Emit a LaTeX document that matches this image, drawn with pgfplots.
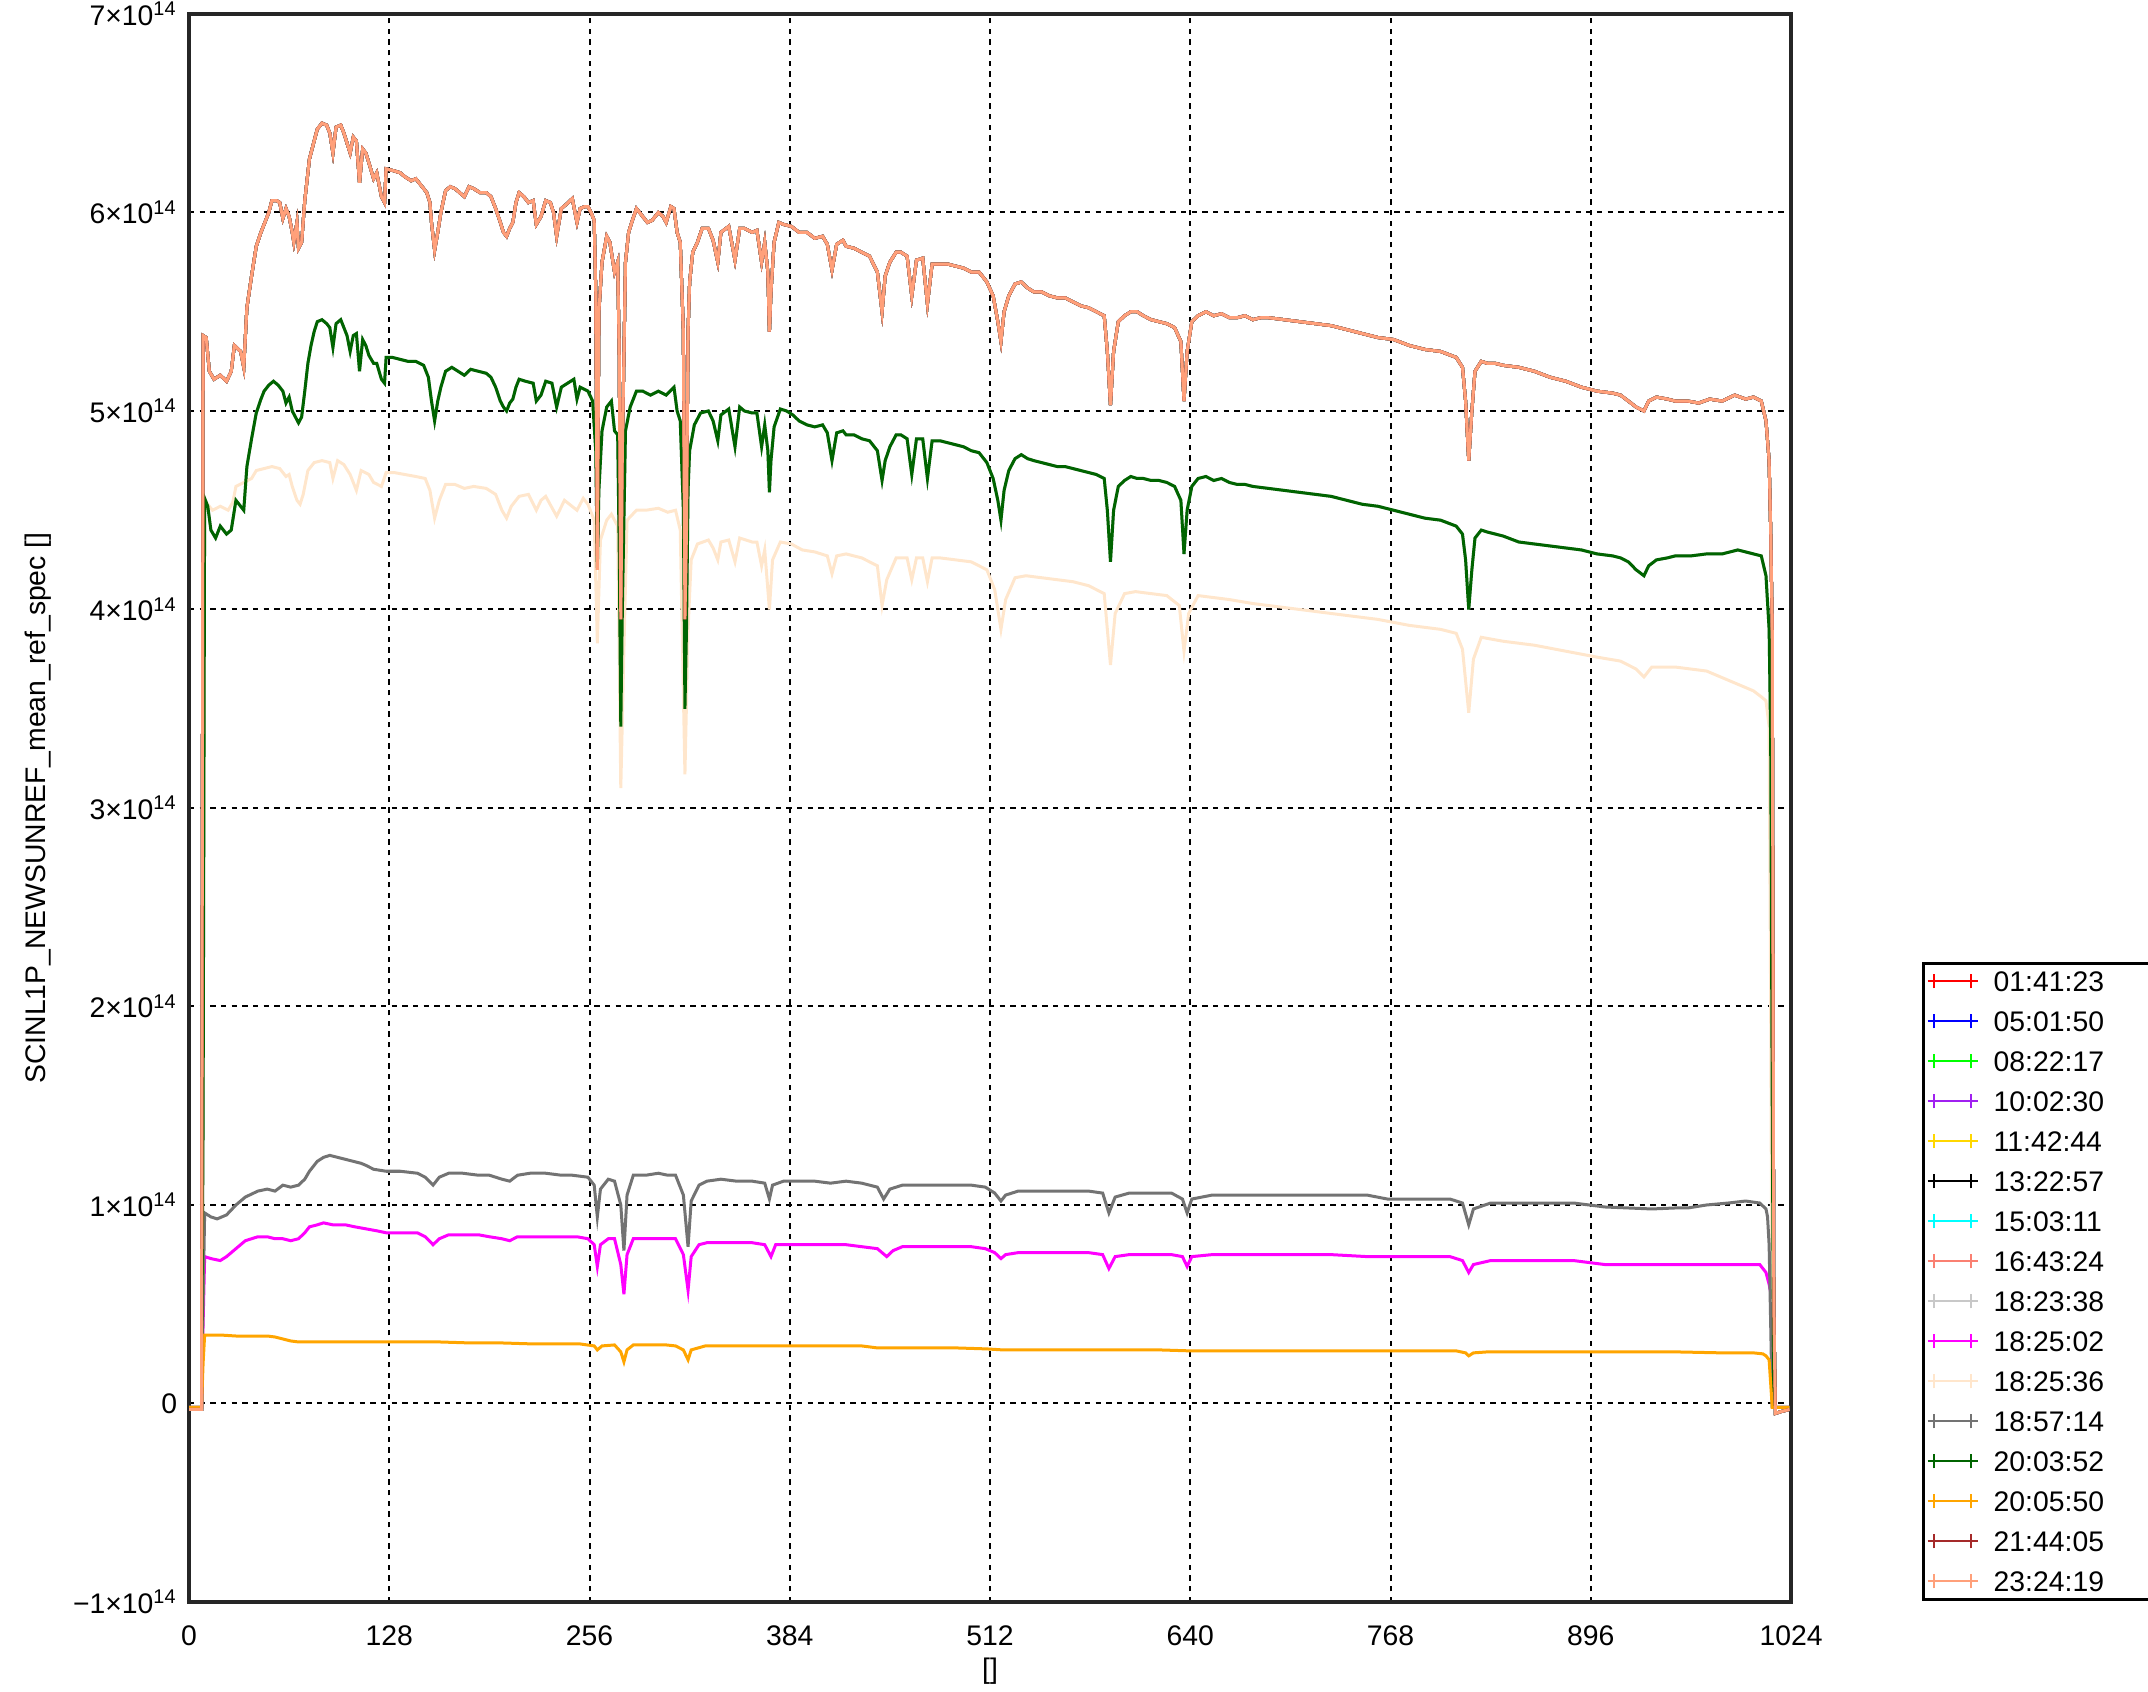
\documentclass[border=0pt]{standalone}
\usepackage{pgfplots}
\pgfplotsset{compat=1.18}
\usepackage{pgfplotstable}
\usepackage{fontspec}
\setmainfont{Liberation Sans}

\definecolor{cRed}{RGB}{255,0,0}
\definecolor{cBlue}{RGB}{0,0,255}
\definecolor{cLime}{RGB}{0,255,0}
\definecolor{cPurple}{RGB}{160,32,240}
\definecolor{cGold}{RGB}{255,215,0}
\definecolor{cCyan}{RGB}{0,255,255}
\definecolor{cSalmon}{RGB}{250,128,114}
\definecolor{cLightgray}{RGB}{200,200,200}
\definecolor{cMagenta}{RGB}{255,0,255}
\definecolor{cBisque}{RGB}{255,230,204}
\definecolor{cGray}{RGB}{115,115,115}
\definecolor{cDarkgreen}{RGB}{0,100,0}
\definecolor{cOrange}{RGB}{255,165,0}
\definecolor{cBrown}{RGB}{165,42,42}
\definecolor{cLightsalmon}{RGB}{255,160,122}

% values in units of 1e14
\pgfplotstableread{
x y
0 -0.03
8 -0.03
9 5.38
11 5.37
13 5.20
16 5.16
20 5.18
24 5.15
27 5.20
29 5.33
33 5.30
35 5.22
37 5.52
40 5.68
43 5.83
46 5.90
48 5.94
51 6.00
53 6.06
56 6.06
58 6.05
60 5.97
62 6.02
64 5.98
66 5.90
67 5.85
69 5.95
70 5.82
72 5.85
74 6.06
77 6.27
80 6.36
82 6.42
85 6.45
88 6.44
90 6.40
92 6.30
94 6.43
97 6.44
99 6.40
101 6.35
103 6.30
105 6.38
107 6.36
109 6.15
111 6.32
113 6.30
115 6.25
118 6.17
120 6.20
123 6.08
125 6.05
126 6.22
131 6.21
135 6.20
138 6.18
142 6.16
145 6.17
148 6.14
150 6.12
152 6.10
154 6.05
155 5.95
157 5.81
159 5.90
161 6.00
164 6.11
167 6.13
170 6.12
173 6.10
176 6.08
179 6.13
182 6.12
186 6.10
190 6.10
193 6.08
196 6.02
199 5.95
201 5.90
203 5.88
205 5.92
207 5.95
209 6.05
211 6.10
214 6.08
217 6.05
220 6.06
222 5.94
225 5.98
228 6.06
231 6.05
233 6.00
235 5.88
238 6.02
241 6.04
245 6.07
248 5.95
250 6.02
253 6.03
255 6.03
257 6.00
259 5.96
260 5.60
261 4.20
262 5.50
264 5.75
267 5.88
269 5.85
270 5.80
272 5.70
274 5.75
275 5.30
276 3.95
277 4.80
279 5.75
281 5.90
283 5.95
286 6.02
290 5.98
293 5.95
296 5.96
300 6.00
303 5.98
305 5.95
308 6.03
310 6.02
312 5.90
314 5.85
316 5.40
317 3.95
318 4.40
319 5.40
320 5.65
322 5.80
325 5.85
328 5.92
332 5.92
335 5.86
338 5.75
340 5.90
345 5.93
349 5.76
352 5.92
355 5.92
360 5.90
363 5.91
366 5.75
368 5.85
370 5.70
371 5.40
372 5.60
374 5.85
377 5.95
380 5.94
385 5.93
390 5.90
395 5.90
400 5.87
405 5.88
408 5.84
411 5.71
414 5.84
418 5.86
420 5.83
425 5.82
430 5.80
435 5.78
440 5.70
443 5.50
445 5.68
448 5.75
452 5.80
455 5.80
459 5.78
462 5.58
465 5.76
469 5.77
472 5.54
475 5.74
480 5.74
485 5.74
490 5.73
495 5.72
500 5.70
505 5.70
510 5.65
514 5.58
517 5.45
519 5.35
521 5.50
524 5.58
528 5.64
532 5.65
536 5.62
540 5.60
545 5.60
550 5.58
555 5.57
560 5.57
565 5.55
570 5.53
575 5.52
580 5.50
585 5.48
587 5.30
589 5.03
591 5.30
594 5.45
598 5.48
602 5.50
606 5.50
610 5.48
615 5.46
620 5.45
625 5.44
630 5.42
634 5.35
636 5.05
638 5.30
641 5.45
645 5.48
650 5.50
655 5.48
660 5.49
665 5.47
670 5.47
675 5.48
680 5.46
685 5.47
690 5.47
700 5.46
710 5.45
720 5.44
730 5.43
740 5.41
750 5.39
760 5.37
770 5.36
780 5.33
790 5.31
800 5.30
810 5.27
814 5.22
816 5.05
818 4.75
820 5.00
822 5.20
826 5.25
830 5.24
835 5.24
840 5.23
850 5.22
860 5.20
870 5.17
880 5.15
890 5.12
900 5.10
910 5.09
915 5.08
920 5.05
925 5.02
930 5.00
933 5.05
938 5.07
945 5.06
950 5.05
958 5.05
965 5.04
972 5.06
980 5.05
988 5.08
995 5.06
1000 5.07
1005 5.05
1008 4.95
1010 4.75
1011 4.40
1012 3.90
1013 0.50
1014 -0.05
1018 -0.04
1023 -0.03
}\tabTop

\pgfplotstableread{
x y
0 -0.02
8 -0.02
9 1.40
10 4.56
12 4.52
14 4.40
17 4.36
20 4.42
24 4.38
27 4.40
30 4.55
33 4.52
35 4.50
37 4.72
40 4.86
43 4.99
46 5.06
48 5.10
51 5.13
54 5.15
57 5.13
60 5.10
62 5.04
64 5.07
66 5.00
68 4.97
70 4.94
72 4.97
74 5.10
76 5.24
78 5.33
80 5.40
82 5.45
85 5.46
88 5.44
90 5.42
92 5.32
94 5.44
97 5.46
99 5.42
101 5.38
103 5.30
105 5.38
107 5.39
109 5.20
111 5.36
113 5.33
115 5.28
118 5.24
120 5.24
123 5.16
125 5.14
126 5.27
130 5.27
135 5.26
140 5.25
145 5.25
150 5.23
153 5.17
155 5.05
157 4.95
159 5.05
161 5.12
164 5.20
168 5.22
172 5.20
176 5.18
180 5.21
185 5.20
190 5.19
193 5.17
196 5.12
199 5.05
201 5.02
203 5.00
205 5.04
207 5.06
209 5.12
211 5.16
215 5.15
220 5.14
222 5.05
225 5.08
228 5.15
232 5.14
235 5.02
238 5.12
242 5.14
246 5.16
248 5.06
250 5.12
255 5.10
258 5.05
260 4.80
261 4.21
262 4.60
264 4.90
267 5.02
270 5.05
272 4.90
274 4.88
275 4.30
276 3.41
277 4.00
279 4.90
282 5.02
286 5.10
290 5.10
295 5.08
300 5.10
305 5.08
310 5.12
312 5.00
314 4.95
316 4.50
317 3.50
318 3.90
319 4.60
320 4.80
323 4.93
327 4.99
332 5.00
335 4.95
338 4.85
340 4.98
345 5.01
349 4.82
352 5.02
355 5.00
360 4.99
363 4.99
366 4.82
368 4.93
370 4.80
371 4.59
372 4.75
374 4.92
378 5.01
382 5.00
386 4.98
390 4.95
395 4.93
400 4.92
405 4.93
408 4.89
411 4.75
414 4.89
418 4.90
420 4.88
425 4.88
430 4.86
435 4.85
440 4.80
443 4.65
445 4.75
448 4.82
452 4.88
455 4.88
459 4.86
462 4.68
465 4.86
469 4.86
472 4.66
475 4.85
480 4.85
485 4.84
490 4.83
495 4.82
500 4.80
505 4.79
510 4.74
514 4.66
517 4.55
519 4.45
521 4.60
524 4.70
528 4.76
532 4.78
536 4.76
540 4.75
545 4.74
550 4.73
555 4.72
560 4.72
565 4.71
570 4.70
575 4.69
580 4.68
585 4.66
587 4.50
589 4.24
591 4.50
594 4.62
598 4.65
602 4.67
606 4.66
610 4.66
615 4.65
620 4.65
625 4.64
630 4.62
634 4.55
636 4.28
638 4.50
641 4.62
645 4.66
650 4.67
655 4.65
660 4.66
665 4.64
670 4.63
675 4.63
680 4.62
690 4.61
700 4.60
710 4.59
720 4.58
730 4.57
740 4.55
750 4.53
760 4.52
770 4.50
780 4.48
790 4.46
800 4.45
810 4.42
814 4.38
816 4.25
818 4.00
820 4.20
822 4.36
826 4.40
830 4.39
840 4.37
850 4.34
860 4.33
870 4.32
880 4.31
890 4.30
900 4.28
910 4.27
915 4.26
920 4.24
925 4.20
930 4.17
933 4.22
938 4.25
945 4.26
950 4.27
960 4.27
970 4.28
980 4.28
990 4.30
1000 4.28
1005 4.27
1008 4.17
1010 3.90
1011 3.34
1012 1.50
1013 -0.02
1023 -0.02
}\tabDG

\pgfplotstableread{
x y
0 -0.02
8 -0.02
9 2.00
10 4.50
12 4.53
15 4.50
20 4.52
25 4.50
28 4.54
30 4.62
35 4.64
40 4.66
43 4.70
48 4.71
53 4.72
58 4.71
62 4.67
64 4.68
66 4.62
69 4.55
71 4.53
73 4.58
76 4.70
80 4.74
85 4.75
90 4.74
92 4.66
95 4.75
99 4.73
103 4.68
107 4.60
110 4.70
115 4.68
118 4.64
123 4.62
126 4.69
131 4.69
138 4.68
145 4.67
151 4.66
154 4.60
157 4.46
160 4.55
164 4.63
170 4.63
176 4.61
182 4.62
190 4.61
196 4.58
200 4.50
203 4.46
206 4.52
211 4.57
217 4.58
222 4.50
225 4.55
228 4.57
235 4.47
240 4.55
248 4.50
252 4.56
255 4.53
259 4.45
261 3.83
263 4.35
267 4.45
270 4.48
274 4.42
276 3.10
278 3.80
280 4.45
286 4.50
292 4.50
300 4.51
306 4.49
311 4.50
314 4.40
317 3.17
319 3.90
321 4.25
325 4.33
332 4.35
335 4.31
338 4.25
340 4.34
345 4.35
349 4.24
352 4.36
360 4.34
363 4.34
366 4.22
368 4.30
371 4.00
373 4.25
378 4.34
385 4.33
392 4.30
400 4.29
408 4.27
411 4.18
414 4.27
420 4.28
430 4.26
440 4.22
443 4.02
446 4.15
452 4.26
459 4.26
462 4.15
465 4.26
469 4.26
472 4.14
475 4.26
480 4.26
490 4.25
500 4.24
510 4.20
515 4.10
519 3.90
522 4.05
528 4.16
535 4.17
545 4.16
555 4.15
565 4.14
575 4.12
585 4.08
589 3.72
592 3.98
598 4.08
605 4.09
615 4.08
625 4.07
633 4.02
636 3.79
639 3.98
645 4.07
655 4.06
665 4.05
680 4.03
700 4.01
720 3.99
740 3.97
760 3.95
780 3.92
800 3.90
810 3.88
814 3.80
818 3.48
821 3.75
826 3.86
840 3.84
860 3.82
880 3.79
900 3.76
915 3.74
925 3.70
930 3.66
935 3.71
950 3.71
970 3.69
985 3.64
1000 3.59
1005 3.56
1008 3.54
1010 3.41
1011 2.00
1012 -0.02
1023 -0.02
}\tabBQ

\pgfplotstableread{
x y
0 -0.02
8 -0.02
9 0.50
10 0.96
14 0.94
18 0.93
24 0.95
30 1.00
36 1.04
44 1.07
50 1.08
55 1.07
60 1.10
65 1.09
70 1.10
74 1.13
77 1.17
82 1.22
86 1.24
90 1.25
95 1.24
100 1.23
105 1.22
110 1.21
113 1.20
118 1.18
126 1.17
135 1.17
146 1.16
151 1.14
156 1.10
160 1.14
166 1.16
175 1.16
185 1.15
192 1.15
200 1.13
205 1.12
210 1.15
218 1.16
228 1.16
238 1.15
245 1.15
255 1.14
259 1.10
261 0.94
263 1.08
268 1.13
272 1.12
276 1.00
278 0.77
280 1.05
284 1.15
292 1.15
300 1.16
306 1.15
311 1.15
316 1.05
319 0.79
321 1.02
326 1.10
331 1.12
340 1.13
350 1.12
360 1.12
368 1.11
371 1.03
373 1.10
380 1.12
390 1.12
400 1.12
410 1.11
420 1.12
430 1.11
440 1.09
444 1.03
448 1.08
456 1.10
470 1.10
485 1.10
500 1.10
509 1.09
515 1.06
519 1.02
522 1.05
530 1.07
542 1.07
555 1.07
565 1.07
575 1.07
584 1.06
588 0.96
592 1.04
601 1.06
615 1.06
628 1.06
635 1.03
638 0.96
641 1.03
654 1.05
670 1.05
690 1.05
710 1.05
730 1.05
753 1.05
766 1.03
780 1.03
795 1.03
806 1.03
814 1.01
818 0.90
821 0.98
832 1.01
850 1.01
870 1.01
885 1.01
895 1.00
905 0.99
920 0.985
935 0.98
950 0.985
958 0.985
970 1.00
984 1.01
995 1.02
1004 1.01
1008 0.98
1009 0.94
1010 0.80
1011 0.40
1012 -0.02
1023 -0.02
}\tabGR

\pgfplotstableread{
x y
0 -0.02
8 -0.02
9 0.40
10 0.74
14 0.73
20 0.72
24 0.74
30 0.78
36 0.82
44 0.84
50 0.84
55 0.83
60 0.83
65 0.82
70 0.83
74 0.86
77 0.89
82 0.90
86 0.91
92 0.90
100 0.90
106 0.89
113 0.88
120 0.87
126 0.86
135 0.86
146 0.86
151 0.84
156 0.80
160 0.83
166 0.85
175 0.85
185 0.85
192 0.84
200 0.83
205 0.82
210 0.84
218 0.84
230 0.84
240 0.84
248 0.84
255 0.83
259 0.80
261 0.69
263 0.80
268 0.83
272 0.83
276 0.70
278 0.55
280 0.75
284 0.83
292 0.83
300 0.83
306 0.83
311 0.83
316 0.75
319 0.57
321 0.74
326 0.80
331 0.81
340 0.81
350 0.81
360 0.81
368 0.80
372 0.74
375 0.80
385 0.80
395 0.80
410 0.80
420 0.80
430 0.79
440 0.78
446 0.74
450 0.77
456 0.79
470 0.79
485 0.79
500 0.79
509 0.78
515 0.76
519 0.73
522 0.75
530 0.76
542 0.76
555 0.76
565 0.76
575 0.76
584 0.75
588 0.68
592 0.74
601 0.75
615 0.75
628 0.75
635 0.74
638 0.69
641 0.74
654 0.75
670 0.75
690 0.75
710 0.75
730 0.75
753 0.74
766 0.74
785 0.74
806 0.74
814 0.72
818 0.66
821 0.70
832 0.72
850 0.72
870 0.72
885 0.72
895 0.71
905 0.70
920 0.70
935 0.70
950 0.70
958 0.70
970 0.70
984 0.70
995 0.70
1004 0.70
1008 0.66
1010 0.60
1011 0.56
1012 0.20
1013 -0.02
1023 -0.02
}\tabMG

\pgfplotstableread{
x y
0 -0.02
8 -0.02
9 0.20
10 0.345
20 0.345
30 0.34
40 0.34
50 0.34
55 0.335
60 0.325
65 0.315
70 0.31
80 0.31
100 0.31
120 0.31
140 0.31
160 0.31
180 0.305
200 0.305
220 0.30
240 0.30
250 0.30
259 0.29
261 0.27
264 0.29
272 0.295
276 0.26
278 0.21
280 0.27
284 0.295
295 0.295
305 0.295
311 0.29
316 0.27
319 0.22
321 0.27
330 0.29
350 0.29
370 0.29
390 0.29
410 0.29
430 0.29
440 0.28
450 0.28
470 0.28
490 0.28
510 0.275
520 0.27
540 0.27
560 0.27
580 0.27
600 0.27
620 0.27
640 0.265
660 0.265
680 0.265
700 0.265
730 0.265
760 0.265
790 0.265
810 0.265
816 0.255
818 0.24
821 0.255
830 0.26
860 0.26
890 0.26
920 0.26
950 0.26
980 0.255
1000 0.255
1006 0.25
1008 0.24
1010 0.22
1011 0.10
1012 -0.02
1023 -0.02
}\tabOR

\begin{document}
\begin{tikzpicture}
\begin{axis}[
  at={(56.7pt,27pt)}, anchor=south west,
  scale only axis, width=480.6pt, height=476.4pt,
  xmin=0, xmax=1024, ymin=-1, ymax=7,
  xtick={0,128,256,384,512,640,768,896,1024},
  xticklabels={0,128,256,384,512,640,768,896,1024},
  ytick={-1,0,1,2,3,4,5,6,7},
  yticklabels={−1×10\textsuperscript{14},0,1×10\textsuperscript{14},2×10\textsuperscript{14},3×10\textsuperscript{14},4×10\textsuperscript{14},5×10\textsuperscript{14},6×10\textsuperscript{14},7×10\textsuperscript{14}},
  grid=major,
  major grid style={black, line width=0.6pt, dash pattern=on 1.6pt off 1.6pt},
  major tick length=0pt,
  axis line style={line width=1pt, black!85},
  tick label style={font=\fontsize{8.5}{9}\selectfont},
  xticklabel style={yshift=-3.5pt},
  xlabel={[]},
  ylabel={SCINL1P\_NEWSUNREF\_mean\_ref\_spec []},
  label style={font=\fontsize{8.5}{9}\selectfont},
  xlabel style={at={(axis description cs:0.5,0)}, anchor=center, yshift=-20.7pt},
  ylabel style={at={(axis description cs:-0.0943,0.5)}, anchor=center},
  legend style={at={(1.0818,0.403)}, anchor=north west, draw=black, line width=0.8pt,
    font=\fontsize{8.5}{9}\selectfont, inner xsep=1pt, inner ysep=2.4pt,
    nodes={inner sep=0pt, text height=6pt, text depth=0pt},
    column sep=4.5pt, row sep=6pt},
  legend cell align=left,
  legend image code/.code={
    \draw[#1, line width=0.6pt] (0pt,0pt) -- (15pt,0pt);
    \draw[#1, line width=0.6pt] (2pt,-2.1pt) -- (2pt,2.1pt);
    \draw[#1, line width=0.6pt] (13pt,-2.1pt) -- (13pt,2.1pt);
  },
  every axis plot/.append style={line width=0.9pt, mark=none},
]
\addplot[cRed] table[x=x,y=y] {\tabTop};
\addlegendentry{01:41:23\hspace*{18pt}}
\addplot[cBlue] table[x=x,y=y] {\tabTop};
\addlegendentry{05:01:50}
\addplot[cLime] table[x=x,y=y] {\tabTop};
\addlegendentry{08:22:17}
\addplot[cPurple] table[x=x,y=y] {\tabTop};
\addlegendentry{10:02:30}
\addplot[cGold] table[x=x,y=y] {\tabTop};
\addlegendentry{11:42:44}
\addplot[black] table[x=x,y=y] {\tabTop};
\addlegendentry{13:22:57}
\addplot[cCyan] table[x=x,y=y] {\tabTop};
\addlegendentry{15:03:11}
\addplot[cSalmon] table[x=x,y=y] {\tabTop};
\addlegendentry{16:43:24}
\addplot[cLightgray] table[x=x,y=y] {\tabDG};
\addlegendentry{18:23:38}
\addplot[cMagenta] table[x=x,y=y] {\tabMG};
\addlegendentry{18:25:02}
\addplot[cBisque] table[x=x,y=y] {\tabBQ};
\addlegendentry{18:25:36}
\addplot[cGray] table[x=x,y=y] {\tabGR};
\addlegendentry{18:57:14}
\addplot[cDarkgreen] table[x=x,y=y] {\tabDG};
\addlegendentry{20:03:52}
\addplot[cOrange] table[x=x,y=y] {\tabOR};
\addlegendentry{20:05:50}
\addplot[cBrown] table[x=x,y=y] {\tabTop};
\addlegendentry{21:44:05}
\addplot[cLightsalmon] table[x=x,y=y] {\tabTop};
\addlegendentry{23:24:19}
\end{axis}
\pgfresetboundingbox
\useasboundingbox (0pt,0pt) rectangle (644.4pt,507.6pt);
\end{tikzpicture}
\end{document}
